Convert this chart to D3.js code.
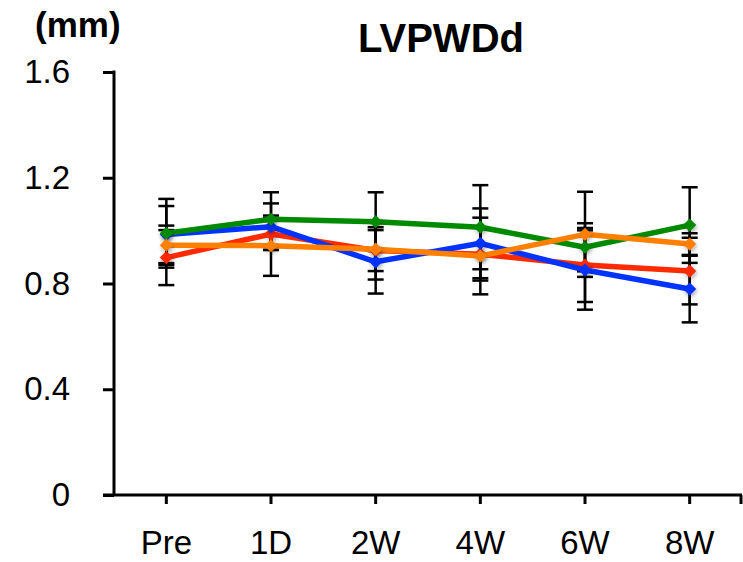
<!DOCTYPE html>
<html>
<head>
<meta charset="utf-8">
<script src="https://cdn.jsdelivr.net/npm/d3@7"></script>
<style>
  body { margin: 0; background: #fff; }
  svg { display: block; font-family: "Liberation Sans", Arial, sans-serif; }
</style>
</head>
<body>
<svg id="chart" width="743" height="562"></svg>
<script>
// categories (time points)
const timePoints = ['Pre', '1D', '2W', '4W', '6W', '8W'];
const yTicks = [0, 0.4, 0.8, 1.2, 1.6];

// series means and SD
const redMean    = [0.898, 0.987, 0.925, 0.911, 0.870, 0.847];
const redSd      = [0.104, 0.060, 0.110, 0.100, 0.140, 0.126];
const blueMean   = [0.985, 1.015, 0.882, 0.952, 0.851, 0.779];
const blueSd     = [0.108, 0.088, 0.120, 0.132, 0.150, 0.126];
const greenMean  = [0.990, 1.043, 1.034, 1.013, 0.937, 1.021];
const greenSd    = [0.130, 0.102, 0.111, 0.159, 0.091, 0.143];
const orangeMean = [0.945, 0.943, 0.930, 0.904, 0.986, 0.949];
const orangeSd   = [0.074, 0.114, 0.083, 0.145, 0.161, 0.041];

const series = [
  { name: 'red',    color: '#ff2b00', mean: redMean,    sd: redSd },
  { name: 'blue',   color: '#0033ff', mean: blueMean,   sd: blueSd },
  { name: 'green',  color: '#008a00', mean: greenMean,  sd: greenSd },
  { name: 'orange', color: '#ff8000', mean: orangeMean, sd: orangeSd }
];

const svg = d3.select('#chart');
const plotLeft = 114, plotRight = 742, plotTop = 72, plotBottom = 495;

const x = d3.scaleBand().domain(timePoints).range([plotLeft, plotRight]);
const y = d3.scaleLinear().domain([0, 1.6]).range([plotBottom, plotTop]);
const cx = d => x(d) + x.bandwidth() / 2;

// drop shadow for the markers
const defs = svg.append('defs');
const f = defs.append('filter').attr('id', 'shadow')
  .attr('x', '-50%').attr('y', '-50%').attr('width', '200%').attr('height', '200%');
f.append('feDropShadow').attr('dx', 1).attr('dy', 2).attr('stdDeviation', 2)
  .attr('flood-color', '#000').attr('flood-opacity', 0.35);

// title and unit
svg.append('text').attr('x', 441).attr('y', 52).attr('text-anchor', 'middle')
  .attr('font-size', 40).attr('font-weight', 'bold').text('LVPWDd');
svg.append('text').attr('x', 35).attr('y', 37)
  .attr('font-size', 35).attr('font-weight', 'bold').text('(mm)');

// y axis
const yAxis = svg.append('g').attr('transform', `translate(${plotLeft},0)`)
  .call(d3.axisLeft(y).tickValues(yTicks).tickSize(11).tickPadding(33)
    .tickFormat(d => d === 0 ? '0' : d3.format('.1f')(d)));
yAxis.select('.domain').remove();
yAxis.selectAll('line').attr('stroke', '#000').attr('stroke-width', 3);
yAxis.selectAll('text').attr('font-size', 33).attr('fill', '#000')
  .attr('font-family', '"Liberation Sans", Arial, sans-serif');
svg.append('line').attr('x1', plotLeft).attr('x2', plotLeft)
  .attr('y1', plotTop - 1.5).attr('y2', plotBottom)
  .attr('stroke', '#000').attr('stroke-width', 3);

// x axis
svg.append('line').attr('x1', 103).attr('x2', plotRight)
  .attr('y1', plotBottom).attr('y2', plotBottom)
  .attr('stroke', '#000').attr('stroke-width', 3);
svg.selectAll('.xtick').data(timePoints).enter().append('line')
  .attr('x1', cx).attr('x2', cx).attr('y1', plotBottom).attr('y2', plotBottom + 9)
  .attr('stroke', '#000').attr('stroke-width', 3);
svg.append('line').attr('x1', plotRight - 1).attr('x2', plotRight - 1)
  .attr('y1', plotBottom).attr('y2', plotBottom + 9)
  .attr('stroke', '#000').attr('stroke-width', 3);
svg.selectAll('.xlabel').data(timePoints).enter().append('text')
  .attr('x', cx).attr('y', 554).attr('text-anchor', 'middle')
  .attr('font-size', 33).text(d => d);

// error bars
series.forEach(s => {
  const g = svg.append('g');
  timePoints.forEach((t, i) => {
    const hi = y(s.mean[i] + s.sd[i]), lo = y(s.mean[i] - s.sd[i]);
    g.append('line').attr('x1', cx(t)).attr('x2', cx(t)).attr('y1', hi).attr('y2', lo)
      .attr('stroke', '#000').attr('stroke-width', 2.5);
    [hi, lo].forEach(v => g.append('line')
      .attr('x1', cx(t) - 8).attr('x2', cx(t) + 8).attr('y1', v).attr('y2', v)
      .attr('stroke', '#000').attr('stroke-width', 2.5));
  });
});

// lines and markers
const line = d3.line().x((d, i) => cx(timePoints[i])).y(d => y(d));
const diamond = d3.symbol().type(d3.symbolDiamond2).size(110);
series.forEach(s => {
  svg.append('path').datum(s.mean).attr('d', line)
    .attr('fill', 'none').attr('stroke', s.color).attr('stroke-width', 5.5)
    .attr('stroke-linejoin', 'round');
  svg.append('g').selectAll('path').data(s.mean).enter().append('path')
    .attr('d', diamond)
    .attr('transform', (d, i) => `translate(${cx(timePoints[i])},${y(d)})`)
    .attr('fill', s.color).attr('filter', 'url(#shadow)');
});
</script>
</body>
</html>
